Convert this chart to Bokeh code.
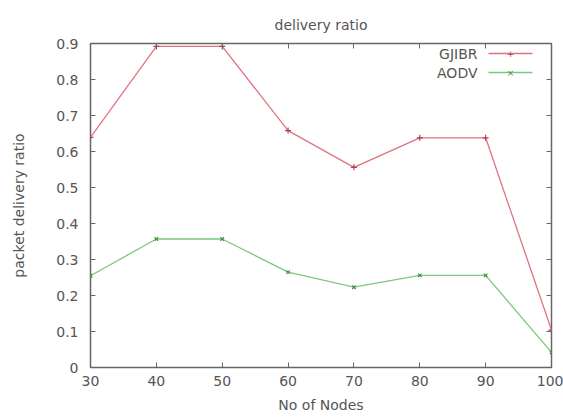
from bokeh.plotting import figure
from bokeh.models import (LinearAxis, FixedTicker, Range1d, Label, BoxAnnotation)
from bokeh.embed import file_html
from bokeh.resources import INLINE

nodes = [30, 40, 50, 60, 70, 80, 90, 100]
gjibr = [0.639, 0.892, 0.892, 0.658, 0.556, 0.638, 0.638, 0.104]
aodv = [0.255, 0.357, 0.357, 0.265, 0.223, 0.256, 0.256, 0.042]
x_ticks = [30, 40, 50, 60, 70, 80, 90, 100]
y_ticks = [0, 0.1, 0.2, 0.3, 0.4, 0.5, 0.6, 0.7, 0.8, 0.9]
series_names = ["GJIBR", "AODV"]
chart_title = "delivery ratio"

RED = "#e0737f"
GREEN = "#7cc87c"
RED_MK = "#b04050"
GREEN_MK = "#409040"
TXT = "#555555"
FONT = "DejaVu Sans"
FS = "14px"

p = figure(width=563, height=419, output_backend="svg", toolbar_location=None,
           x_range=Range1d(30, 100), y_range=Range1d(0, 0.9),
           min_border_left=90, min_border_right=12, min_border_top=43, min_border_bottom=52,
           x_axis_location=None, y_axis_location=None)
p.background_fill_color = "white"
p.border_fill_color = "white"
p.grid.visible = False
p.outline_line_color = "#666666"
p.outline_line_width = 1.5

p.title.text = chart_title
p.title.align = "center"
p.title.text_font = FONT
p.title.text_font_size = FS
p.title.text_font_style = "normal"
p.title.text_color = TXT
p.title.standoff = 22


def style_axis(ax, ticks, labels=True):
    ax.ticker = FixedTicker(ticks=ticks)
    ax.axis_line_color = None
    ax.major_tick_in = 5
    ax.major_tick_out = 0
    ax.major_tick_line_color = "#666666"
    ax.minor_tick_line_color = None
    ax.major_label_text_font = FONT
    ax.major_label_text_font_size = FS
    ax.major_label_text_color = TXT
    ax.axis_label_text_font = FONT
    ax.axis_label_text_font_size = FS
    ax.axis_label_text_font_style = "normal"
    ax.axis_label_text_color = TXT
    if not labels:
        ax.major_label_overrides = {t: "" for t in ticks}
        ax.major_label_text_font_size = "1px"
        ax.major_label_standoff = 0


xb = LinearAxis(axis_label="No of Nodes")
p.add_layout(xb, "below")
style_axis(xb, x_ticks)
xb.major_label_standoff = 8
xb.axis_label_standoff = 8

yl = LinearAxis(axis_label="packet delivery ratio")
p.add_layout(yl, "left")
style_axis(yl, y_ticks)
yl.major_label_standoff = 12
yl.axis_label_standoff = 26

xt = LinearAxis()
p.add_layout(xt, "above")
style_axis(xt, x_ticks, labels=False)

yr = LinearAxis()
p.add_layout(yr, "right")
style_axis(yr, y_ticks, labels=False)

p.line(nodes, gjibr, line_color=RED, line_width=1.3)
p.scatter(nodes, gjibr, marker="cross", size=6, line_color=RED_MK, line_width=1.2)
p.line(nodes, aodv, line_color=GREEN, line_width=1.3)
p.scatter(nodes, aodv, marker="x", size=5, line_color=GREEN_MK, line_width=1.2)

# manual legend (label left of sample line); screen units are relative to the frame
for i, (name, col, mk, mcol) in enumerate([(series_names[0], RED, "+", RED_MK),
                                            (series_names[1], GREEN, "×", GREEN_MK)]):
    ymid = 314 - 19 * i
    p.add_layout(Label(x=387, y=ymid, x_units="screen", y_units="screen", text=name,
                       text_align="right", text_baseline="middle", text_font=FONT,
                       text_font_size=FS, text_color=TXT))
    p.add_layout(BoxAnnotation(left=398, right=442, bottom=ymid - 0.7, top=ymid + 0.7,
                               left_units="screen", right_units="screen",
                               bottom_units="screen", top_units="screen",
                               fill_color=col, fill_alpha=1, line_color=None))
    p.add_layout(Label(x=420, y=ymid, x_units="screen", y_units="screen", text=mk,
                       text_align="center", text_baseline="middle", text_font=FONT,
                       text_font_size="9px", text_color=mcol))

open("out.html", "w").write(file_html(p, INLINE))
